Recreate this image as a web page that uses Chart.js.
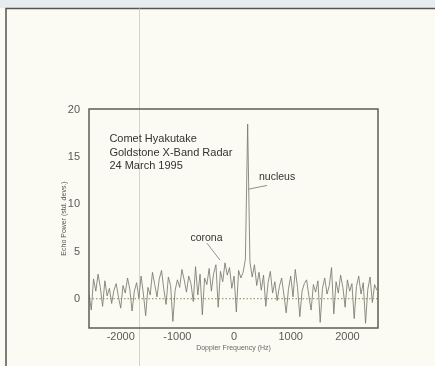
<!DOCTYPE html>
<html>
<head>
<meta charset="utf-8">
<script src="https://cdn.jsdelivr.net/npm/chart.js@4.4.1/dist/chart.umd.min.js"></script>
<style>
  html, body { margin: 0; padding: 0; background: #fbfbf3; }
  #wrap { width: 435px; height: 366px; position: relative; }
</style>
</head>
<body>
<div id="wrap"><canvas id="grafica" width="435" height="366"></canvas></div>
<script>
// =======================
// DATOS
// =======================
const freqStart = -2560;
const freqStep = 40;
const echoPower = [
  0.5, -1.2, 2.1, 0.8, 2.6, 1.2, -0.8, 1.9, 0.3, 1.1, -0.5, 0.9, 1.6, 0.2, -1.0,
  1.4, 0.6, 2.2, 1.0, -1.3, 0.8, 1.7, 0.1, 2.4, 0.5, -1.8, 1.2, 0.4,
  2.8, 1.5, 0.2, 2.1, 3.0, 1.0, -0.6, 2.3, 1.4, -2.4, 0.9, 2.0,
  1.2, 3.1, 2.0, 0.7, 2.4, 1.6, -0.3, 3.4, 0.4, 2.6, -1.7, 2.2,
  1.5, 3.2, 0.8, 2.7, 3.6, -0.9, 2.9, 1.8, 3.8, 2.5, 3.3, 1.1,
  2.4, -1.4, 3.0, 2.2, 2.8, 4.2, 18.5, 3.9, 2.3, 3.6, 1.4, 2.8,
  0.9, 2.5, -0.8, 1.7, 2.9, 0.6, 1.8, -0.2, 1.3, 2.2, 0.4, -1.5,
  1.0, 2.4, 0.2, 3.1, 1.2, -1.9, 0.8, 1.6, 2.0, 0.3, -1.2, 1.5,
  0.7, 1.9, -2.5, 1.1, 2.2, 0.5, 1.4, 3.3, -1.6, 1.8, 0.6, 2.5,
  1.2, -0.9, 2.0, 0.8, 1.6, -2.1, 1.3, 2.4, 0.5, 1.7, -2.6, 1.0, 2.3, -0.4, 1.5, 0.9
];
const xTicks = [-2000, -1000, 0, 1000, 2000];
const yTicks = [0, 5, 10, 15, 20];
const xRange = [-2560, 2540];
const yRange = [-3.1, 20.1];
const titleLines = ["Comet Hyakutake", "Goldstone X-Band Radar", "24 March 1995"];
const labelNucleus = "nucleus";
const labelCorona = "corona";

const puntos = echoPower.map((v, i) => ({ x: freqStart + i * freqStep, y: v }));
const lineaCero = [{ x: xRange[0], y: 0 }, { x: xRange[1], y: 0 }];

const fuente = "'Liberation Sans', Arial, sans-serif";

// =======================
// FONDO Y ANOTACIONES
// =======================
const decoracion = {
  id: "decoracion",
  beforeDraw(chart) {
    const c = chart.ctx;
    c.save();
    c.fillStyle = "#fbfbf3";
    c.fillRect(0, 0, chart.width, chart.height);
    c.fillStyle = "#e6edee";
    c.fillRect(0, 0, chart.width, 8);
    c.strokeStyle = "#5b5352";
    c.lineWidth = 1.5;
    c.beginPath();
    c.moveTo(6, chart.height);
    c.lineTo(6, 8.5);
    c.lineTo(chart.width, 8.5);
    c.stroke();
    // pliegue del escaneo
    c.strokeStyle = "rgba(200,180,170,0.6)";
    c.lineWidth = 1;
    c.beginPath();
    c.moveTo(139.5, 8);
    c.lineTo(139.5, chart.height);
    c.stroke();
    c.restore();
  },
  afterDraw(chart) {
    const c = chart.ctx;
    const a = chart.chartArea;
    const xs = chart.scales.x;
    const ys = chart.scales.y;
    c.save();
    c.strokeStyle = "#5e5e52";
    c.lineWidth = 1.5;
    c.strokeRect(a.left, a.top, a.right - a.left, a.bottom - a.top);

    c.fillStyle = "#333330";
    c.font = "11px " + fuente;
    c.textBaseline = "middle";
    titleLines.forEach((t, i) => {
      c.fillText(t, xs.getPixelForValue(-2200), ys.getPixelForValue(16.9 - i * 1.42));
    });

    // nucleus
    c.font = "10.5px " + fuente;
    c.fillText(labelNucleus, xs.getPixelForValue(440), ys.getPixelForValue(12.9));
    c.strokeStyle = "#8c9474";
    c.lineWidth = 1;
    c.beginPath();
    c.moveTo(xs.getPixelForValue(250), ys.getPixelForValue(11.6));
    c.lineTo(xs.getPixelForValue(580), ys.getPixelForValue(12.0));
    c.stroke();

    // corona
    c.fillText(labelCorona, xs.getPixelForValue(-770), ys.getPixelForValue(6.4));
    c.strokeStyle = "#8a96a6";
    c.beginPath();
    c.moveTo(xs.getPixelForValue(-480), ys.getPixelForValue(5.9));
    c.lineTo(xs.getPixelForValue(-250), ys.getPixelForValue(4.1));
    c.stroke();
    c.restore();
  }
};

new Chart(document.getElementById("grafica"), {
  type: "line",
  data: {
    datasets: [
      {
        data: lineaCero,
        borderColor: "#7f8a5e",
        borderWidth: 1,
        borderDash: [1.5, 2],
        pointRadius: 0
      },
      {
        data: puntos,
        borderColor: "rgba(120,122,110,0.85)",
        borderWidth: 1,
        pointRadius: 0,
        tension: 0
      }
    ]
  },
  options: {
    responsive: false,
    animation: false,
    layout: { padding: { left: 56, right: 57, top: 109, bottom: 0 } },
    plugins: { legend: { display: false }, tooltip: { enabled: false } },
    scales: {
      x: {
        type: "linear",
        min: xRange[0],
        max: xRange[1],
        afterBuildTicks: s => { s.ticks = xTicks.map(v => ({ value: v })); },
        afterFit: s => { s.height = 38; },
        grid: { display: false, drawTicks: false },
        border: { display: false },
        ticks: {
          color: "#5a5a55",
          padding: 2,
          font: { family: fuente, size: 11 },
          callback: v => String(v)
        },
        title: {
          display: true,
          text: "Doppler Frequency (Hz)",
          color: "#6a6a66",
          font: { family: fuente, size: 7 },
          padding: { top: 0, bottom: 14 }
        }
      },
      y: {
        min: yRange[0],
        max: yRange[1],
        afterBuildTicks: s => { s.ticks = yTicks.map(v => ({ value: v })); },
        afterFit: s => { s.width = 33; },
        grid: { display: false, drawTicks: false },
        border: { display: false },
        ticks: {
          color: "#5a5a55",
          padding: 9,
          font: { family: fuente, size: 11 }
        },
        title: {
          display: true,
          text: "Echo Power (std. devs.)",
          color: "#55554f",
          font: { family: fuente, size: 7 },
          padding: { top: 4, bottom: 0 }
        }
      }
    }
  },
  plugins: [decoracion]
});
</script>
</body>
</html>
